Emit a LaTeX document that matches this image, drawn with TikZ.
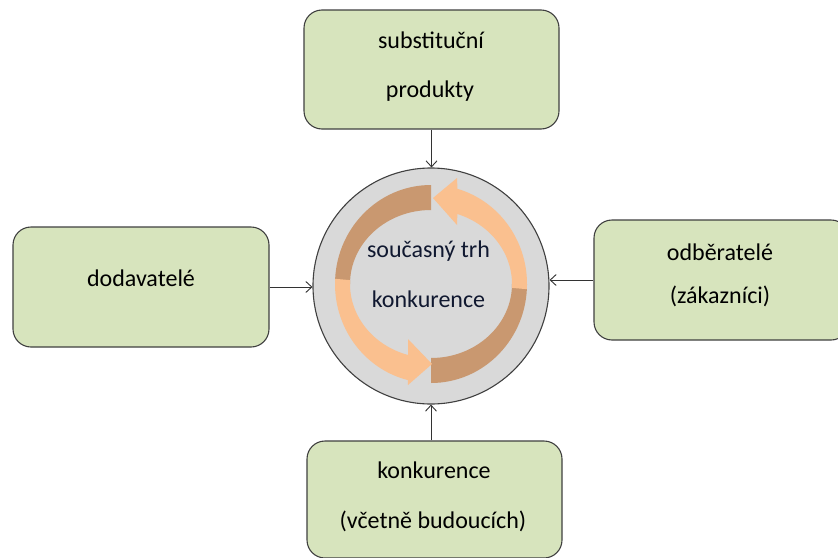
\documentclass[tikz,border=0pt]{standalone}
\usepackage{fontspec}
\setmainfont{Carlito}
\usetikzlibrary{arrows.meta}
\definecolor{boxfill}{RGB}{215,228,189}
\definecolor{edgec}{RGB}{64,64,64}
\definecolor{circfill}{RGB}{217,217,217}
\definecolor{ribdark}{RGB}{201,152,112}
\definecolor{riblight}{RGB}{250,192,143}
\definecolor{circtext}{RGB}{16,24,48}
\tikzset{
  gbox/.style={draw=edgec, fill=boxfill, rounded corners=18pt, line width=1.1pt, inner sep=0pt},
  lbl/.style={font=\fontsize{24}{28}\selectfont, anchor=base, inner sep=0pt, text=black},
  clbl/.style={lbl, text=circtext},
  conn/.style={draw=edgec!80!black, line width=0.9pt, -{Straight Barb[length=6pt,width=11pt]}},
}
\begin{document}
\begin{tikzpicture}[x=1pt,y=1pt]
\useasboundingbox (0,0) rectangle (838,-557);
\clip (0,0) rectangle (838,-557);
\fill[white] (0,0) rectangle (838,-557);
% boxes
\node[gbox, minimum width=255pt, minimum height=119pt] (tbox) at (431.5,-69.5) {};
\node[gbox, minimum width=256pt, minimum height=120pt] (lbox) at (141,-287) {};
\node[gbox, minimum width=255pt, minimum height=120pt] (rbox) at (721.5,-280) {};
\node[gbox, minimum width=255pt, minimum height=117pt] (bbox) at (434.5,-499.5) {};
% circle
\node[circle, draw=edgec, fill=circfill, line width=1.1pt, minimum size=236pt, inner sep=0pt] (circ) at (431,-286) {};
% ribbon arrows
\fill[ribdark] (431,-185) arc[start angle=90,end angle=180,x radius=96pt,y radius=99pt]
  -- (350,-284) arc[start angle=180,end angle=90,x radius=81pt,y radius=74pt] -- cycle;
\fill[ribdark] (431,-383) arc[start angle=270,end angle=360,x radius=96pt,y radius=99pt]
  -- (512,-284) arc[start angle=0,end angle=-90,x radius=81pt,y radius=74pt] -- cycle;
\fill[riblight] (526.87,-289.18) arc[start angle=-3,end angle=74,x radius=96pt,y radius=99pt]
  -- (457,-178) -- (433,-198) -- (457,-225)
  -- (457.37,-214.03) arc[start angle=71,end angle=-3,x radius=81pt,y radius=74pt] -- cycle;
\fill[riblight] (335.13,-278.82) arc[start angle=177,end angle=256,x radius=96pt,y radius=99pt]
  -- (408,-385) -- (432,-364) -- (408,-339)
  -- (408.0,-354.95) arc[start angle=253.5,end angle=177,x radius=81pt,y radius=74pt] -- cycle;
% texts
\node[lbl] (t1) at (431,-48) {substituční};
\node[lbl] (t2) at (430,-97) {produkty};
\node[lbl] (l1) at (141,-286) {dodavatelé};
\node[lbl] (r1) at (720,-260) {odběratelé};
\node[lbl] (r2) at (720,-303) {(zákazníci)};
\node[lbl] (b1) at (434,-478) {konkurence};
\node[lbl] (b2) at (433,-528) {(včetně budoucích)};
\node[clbl] (c1) at (428.5,-257) {současný trh};
\node[clbl] (c2) at (428.5,-307) {konkurence};
% connectors
\draw[conn] (tbox.south) -- (tbox.south |- circ.north);
\draw[conn] (lbox.east) -- (lbox.east -| circ.west);
\draw[conn] (rbox.west) -- (rbox.west -| circ.east);
\draw[conn] (circ.south |- bbox.north) -- (circ.south);
\end{tikzpicture}
\end{document}
